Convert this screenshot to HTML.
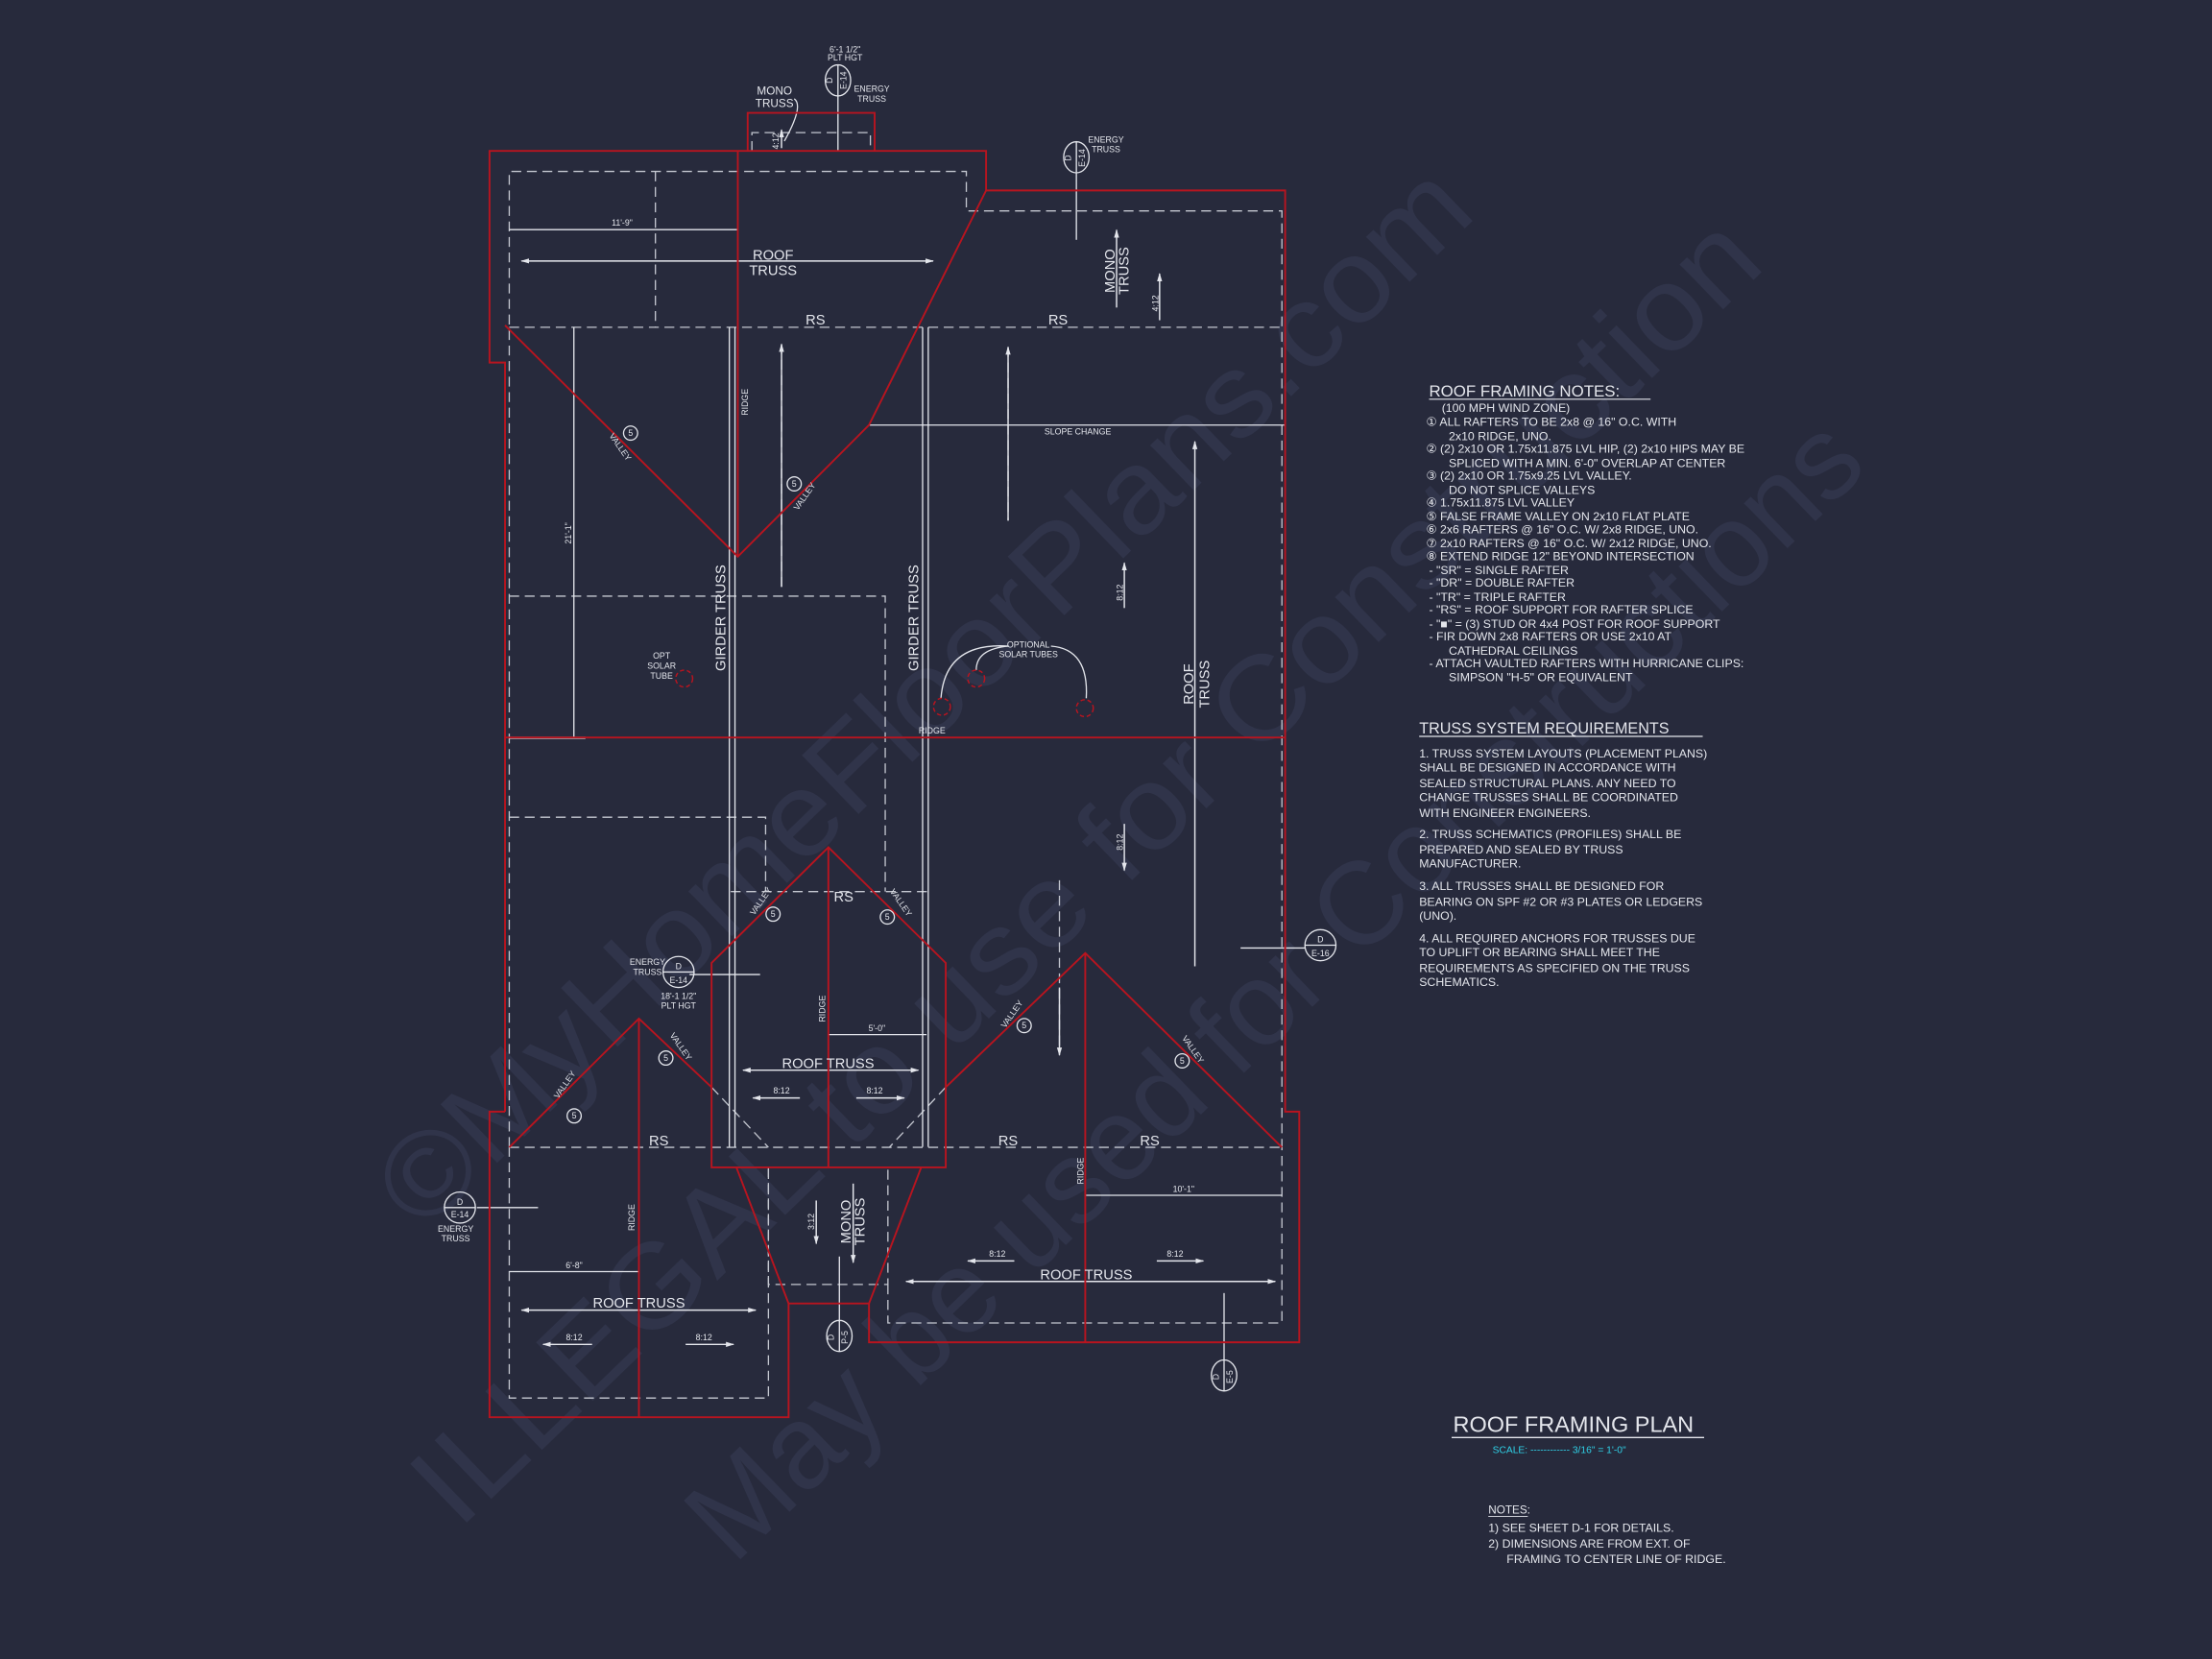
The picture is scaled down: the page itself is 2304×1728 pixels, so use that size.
<!DOCTYPE html>
<html><head><meta charset="utf-8"><style>
html,body{margin:0;padding:0;background:#272a3c;}
svg{display:block}
text{font-family:"Liberation Sans",sans-serif;fill:#e4e6ec;}
</style></head><body>
<svg width="2304" height="1728" viewBox="0 0 1568 1176" xmlns="http://www.w3.org/2000/svg">
<rect width="1568" height="1176" fill="#272a3c"/>
<defs>
<marker id="ah" viewBox="0 0 10 10" refX="9" refY="5" markerWidth="6" markerHeight="6" orient="auto-start-reverse"><path d="M0,2 L10,5 L0,8 z" fill="#e4e6ec"/></marker>
</defs>
<!-- watermark -->
<g font-family="Liberation Serif,serif">
<text x="300" y="875" font-size="84" transform="rotate(-44 300 875)" style="fill:#30344a" textLength="1040" lengthAdjust="spacingAndGlyphs">©MyHomeFloorPlans.com</text>
<text x="325" y="1085" font-size="84" transform="rotate(-44 325 1085)" style="fill:#30344a" textLength="1290" lengthAdjust="spacingAndGlyphs">ILLEGAL to use for Construction</text>
<text x="520" y="1110" font-size="84" transform="rotate(-44 520 1110)" style="fill:#30344a" textLength="1120" lengthAdjust="spacingAndGlyphs">May be used for Constructions</text>
</g>
<!-- dashed inner lines -->
<g stroke="#c4c7d0" stroke-width="0.9" fill="none" stroke-dasharray="7,4">
<path d="M361,813 V121.5 H685 V149.5 H908.7 V813"/>
<line x1="361" y1="232" x2="908.7" y2="232"/>
<line x1="464.6" y1="121.5" x2="464.6" y2="232"/>
<line x1="361" y1="813.3" x2="908.7" y2="813.3"/>
<path d="M361,422.6 H627.5 V632"/>
<path d="M361,579.3 H542.7 V632"/>
<line x1="518" y1="632" x2="657" y2="632"/>
<path d="M361,813 V991 H544.7 V827.5"/>
<path d="M544.7,827.5 V910.5 H629.4 V827.5"/>
<path d="M629.4,910.5 V937.8 H908.7 V813"/>
<line x1="504.4" y1="770.7" x2="544.7" y2="813.3"/>
<line x1="670.4" y1="770.7" x2="630.4" y2="813.3"/>
<path d="M533,107 V94 H617 V107"/>
<line x1="554" y1="244" x2="554" y2="416"/>
<line x1="714.6" y1="246" x2="714.6" y2="369"/>
<line x1="751" y1="624" x2="751" y2="745"/>
</g>
<!-- solid white lines -->
<g stroke="#e4e6ec" stroke-width="0.9" fill="none">
<line x1="517" y1="232" x2="517" y2="813"/><line x1="521" y1="232" x2="521" y2="813"/>
<line x1="654" y1="232" x2="654" y2="813"/><line x1="658" y1="232" x2="658" y2="813"/>
<line x1="361" y1="162.8" x2="522.8" y2="162.8"/>
<line x1="616" y1="301.3" x2="911" y2="301.3"/>
<line x1="406.8" y1="232" x2="406.8" y2="523"/>
<line x1="361" y1="523" x2="415" y2="523" stroke-width="1.5"/>
<line x1="587" y1="733.4" x2="656.8" y2="733.4"/>
<line x1="361" y1="901.4" x2="453" y2="901.4"/>
<line x1="769" y1="847.3" x2="908.7" y2="847.3"/>
<line x1="594" y1="68" x2="594" y2="107"/>
<line x1="763" y1="122" x2="763" y2="170"/>
<line x1="488.8" y1="690.8" x2="538.8" y2="690.8"/>
<line x1="338" y1="856" x2="381.4" y2="856"/>
<line x1="879.4" y1="672" x2="925" y2="672"/>
<line x1="595" y1="890.7" x2="595" y2="937"/>
<line x1="867.7" y1="916.6" x2="867.7" y2="964"/>
<path d="M563,70 Q570,75 556,100"/>
<path d="M667,495 Q670,455 715,458"/><path d="M692,475 Q692,460 715,458"/><path d="M745,458 Q772,460 770,495"/>
</g>
<!-- arrows -->
<g stroke="#e4e6ec" stroke-width="1" fill="none">
<line x1="369.7" y1="185" x2="661.5" y2="185" marker-start="url(#ah)" marker-end="url(#ah)"/>
<line x1="526.7" y1="758.6" x2="651" y2="758.6" marker-start="url(#ah)" marker-end="url(#ah)"/>
<line x1="369.7" y1="928.7" x2="535.7" y2="928.7" marker-start="url(#ah)" marker-end="url(#ah)"/>
<line x1="642.3" y1="908.4" x2="904" y2="908.4" marker-start="url(#ah)" marker-end="url(#ah)"/>
<line x1="567" y1="778.3" x2="533.7" y2="778.3" marker-end="url(#ah)"/>
<line x1="607" y1="778.3" x2="641" y2="778.3" marker-end="url(#ah)"/>
<line x1="419.7" y1="953" x2="385" y2="953" marker-end="url(#ah)"/>
<line x1="486" y1="953" x2="520" y2="953" marker-end="url(#ah)"/>
<line x1="719" y1="893.8" x2="686" y2="893.8" marker-end="url(#ah)"/>
<line x1="820" y1="893.8" x2="853" y2="893.8" marker-end="url(#ah)"/>
<line x1="554" y1="416" x2="554" y2="244" marker-end="url(#ah)"/>
<line x1="714.6" y1="369" x2="714.6" y2="246" marker-end="url(#ah)"/>
<line x1="847" y1="685" x2="847" y2="313" marker-end="url(#ah)"/>
<line x1="791.5" y1="218" x2="791.5" y2="163" marker-end="url(#ah)"/>
<line x1="822" y1="227" x2="822" y2="194" marker-end="url(#ah)"/>
<line x1="797" y1="431" x2="797" y2="399" marker-end="url(#ah)"/>
<line x1="797" y1="584" x2="797" y2="617" marker-end="url(#ah)"/>
<line x1="751" y1="700" x2="751" y2="748" marker-end="url(#ah)"/>
<line x1="604.8" y1="839" x2="604.8" y2="895" marker-end="url(#ah)"/>
<line x1="578.6" y1="851" x2="578.6" y2="881.6" marker-end="url(#ah)"/>
<line x1="554" y1="105" x2="554" y2="92" marker-end="url(#ah)"/>
</g>
<!-- red outline -->
<g stroke="#b8141f" stroke-width="1.3" fill="none">
<path d="M530,107 V80 H620 V107"/>
<path d="M358,788 V257 H347 V107 H699 V135 H911 V788 H921 V951.5 H616 V924 H559 V1004.6 H347 V788 H358"/>
<line x1="523" y1="107" x2="523" y2="394.6"/>
<path d="M699,135 L616,301.3 L523,394.6 L358,230.6"/>
<line x1="358" y1="522.8" x2="911" y2="522.8"/>
<path d="M587.2,600.6 L504.4,682.6 V827.5 H670.4 V682.6 Z"/>
<line x1="587.2" y1="600.6" x2="587.2" y2="827.5"/>
<path d="M361,813.3 L452.9,722 L504.4,770.7"/>
<line x1="452.9" y1="722" x2="452.9" y2="1004.6"/>
<path d="M670.4,770.7 L769.3,675.6 L908.7,813.3"/>
<line x1="769.3" y1="675.6" x2="769.3" y2="951.5"/>
<path d="M522,827.5 L559,924 M653,827.5 L616,924"/>
</g>
<g stroke="#b8141f" stroke-width="1" fill="none" stroke-dasharray="3,2">
<circle cx="485" cy="481" r="6"/><circle cx="692" cy="481" r="6"/><circle cx="667.7" cy="501" r="6"/><circle cx="769" cy="502" r="6"/>
</g>
<!-- callout circles -->
<g stroke="#e4e6ec" stroke-width="0.9" fill="none">
<ellipse cx="594" cy="57" rx="9" ry="11"/><line x1="594" y1="46" x2="594" y2="68"/>
<ellipse cx="763" cy="111.5" rx="9" ry="11"/><line x1="763" y1="100" x2="763" y2="122"/>
<circle cx="481" cy="689" r="11"/><line x1="470" y1="689" x2="492" y2="689"/>
<circle cx="326" cy="856" r="11"/><line x1="315" y1="856" x2="337" y2="856"/>
<circle cx="936" cy="670" r="11"/><line x1="925" y1="670" x2="947" y2="670"/>
<ellipse cx="595" cy="947" rx="9" ry="11"/><line x1="595" y1="936" x2="595" y2="958"/>
<ellipse cx="867.7" cy="975" rx="9" ry="11"/><line x1="867.7" y1="964" x2="867.7" y2="986"/>
<circle cx="447" cy="307" r="5"/><circle cx="563" cy="343" r="5"/>
<circle cx="548" cy="648" r="5"/><circle cx="629" cy="650" r="5"/>
<circle cx="472" cy="750" r="5"/><circle cx="407" cy="791" r="5"/>
<circle cx="726" cy="727" r="5"/><circle cx="838" cy="752" r="5"/>
</g>
<g font-size="6" text-anchor="middle">
<text x="447" y="309">5</text><text x="563" y="345">5</text><text x="548" y="650">5</text><text x="629" y="652">5</text>
<text x="472" y="752">5</text><text x="407" y="793">5</text><text x="726" y="729">5</text><text x="838" y="754">5</text>
<text x="481" y="687">D</text><text x="481" y="697">E-14</text>
<text x="326" y="854">D</text><text x="326" y="863">E-14</text>
<text x="936" y="668">D</text><text x="936" y="678">E-16</text>
<text transform="translate(590,57) rotate(-90)">D</text><text transform="translate(600,57) rotate(-90)">E-14</text>
<text transform="translate(759,112) rotate(-90)">D</text><text transform="translate(769,112) rotate(-90)">E-14</text>
<text transform="translate(591,948) rotate(-90)">D</text><text transform="translate(601,948) rotate(-90)">P-5</text>
<text transform="translate(864,976) rotate(-90)">D</text><text transform="translate(874,976) rotate(-90)">E-5</text>
</g>
<!-- plan labels -->
<g font-size="10" text-anchor="middle">
<text x="548" y="184">ROOF</text><text x="548" y="195">TRUSS</text>
<text x="578" y="230">RS</text><text x="750" y="230">RS</text>
<text x="598" y="639">RS</text><text x="467" y="812">RS</text><text x="714.6" y="812">RS</text><text x="815" y="812">RS</text>
<text x="587" y="757">ROOF TRUSS</text><text x="452.9" y="927">ROOF TRUSS</text><text x="770" y="907">ROOF TRUSS</text>
<text transform="translate(514,438) rotate(-90)">GIRDER TRUSS</text>
<text transform="translate(651,438) rotate(-90)">GIRDER TRUSS</text>
<text transform="translate(846,485) rotate(-90)">ROOF</text><text transform="translate(857,485) rotate(-90)">TRUSS</text>
<text transform="translate(790,192) rotate(-90)">MONO</text><text transform="translate(800,192) rotate(-90)">TRUSS</text>
<text transform="translate(603,866) rotate(-90)">MONO</text><text transform="translate(613,866) rotate(-90)">TRUSS</text>
<text x="549" y="67" font-size="8">MONO</text><text x="549" y="76" font-size="8">TRUSS</text>
</g>
<g font-size="6" text-anchor="middle">
<text x="441" y="160">11'-9"</text><text x="407" y="899">6'-8"</text><text x="621.6" y="731">5'-0"</text><text x="839" y="845">10'-1"</text>
<text transform="translate(405,378) rotate(-90)">21'-1"</text>
<text x="764" y="308">SLOPE CHANGE</text>
<text x="660.7" y="520">RIDGE</text>
<text transform="translate(530,285) rotate(-90)">RIDGE</text>
<text transform="translate(585,715) rotate(-90)">RIDGE</text>
<text transform="translate(450,863) rotate(-90)">RIDGE</text>
<text transform="translate(768,830) rotate(-90)">RIDGE</text>
<text x="469" y="467">OPT</text><text x="469" y="474">SOLAR</text><text x="469" y="481">TUBE</text>
<text x="729" y="459">OPTIONAL</text><text x="729" y="466">SOLAR TUBES</text>
<text x="459" y="684">ENERGY</text><text x="459" y="691">TRUSS</text>
<text x="481" y="708">18'-1 1/2"</text><text x="481" y="715">PLT HGT</text>
<text x="323" y="873">ENERGY</text><text x="323" y="880">TRUSS</text>
<text x="599" y="37">6'-1 1/2"</text><text x="599" y="43">PLT HGT</text>
<text x="618" y="65">ENERGY</text><text x="618" y="72">TRUSS</text>
<text x="784" y="101">ENERGY</text><text x="784" y="108">TRUSS</text>
<text x="554" y="775">8:12</text><text x="620" y="775">8:12</text>
<text x="407" y="950">8:12</text><text x="499" y="950">8:12</text>
<text x="707" y="891">8:12</text><text x="833" y="891">8:12</text>
<text transform="translate(796,420) rotate(-90)">8:12</text>
<text transform="translate(796,597) rotate(-90)">8:12</text>
<text transform="translate(821,215) rotate(-90)">4:12</text>
<text transform="translate(552,100) rotate(-90)">4:12</text>
<text transform="translate(577,866) rotate(-90)">3:12</text>
<text transform="translate(438,318) rotate(55)">VALLEY</text>
<text transform="translate(572,353) rotate(-55)">VALLEY</text>
<text transform="translate(541,640) rotate(-55)">VALLEY</text>
<text transform="translate(637,641) rotate(55)">VALLEY</text>
<text transform="translate(481,743) rotate(55)">VALLEY</text>
<text transform="translate(402,770) rotate(-55)">VALLEY</text>
<text transform="translate(719,720) rotate(-55)">VALLEY</text>
<text transform="translate(844,745) rotate(55)">VALLEY</text>
</g>
<!-- notes -->
<g font-size="8.4">
<text x="1013" y="281" font-size="11.5">ROOF FRAMING NOTES:</text>
<line x1="1013" y1="283" x2="1170" y2="283" stroke="#e4e6ec" stroke-width="0.8"/>
<text x="1022" y="292">(100 MPH WIND ZONE)</text>
<text x="1011" y="302">①  ALL RAFTERS TO BE 2x8 @ 16" O.C. WITH</text>
<text x="1027" y="312">2x10 RIDGE, UNO.</text>
<text x="1011" y="321">②  (2) 2x10 OR 1.75x11.875 LVL HIP, (2) 2x10 HIPS MAY BE</text>
<text x="1027" y="331">SPLICED WITH A MIN. 6'-0" OVERLAP AT CENTER</text>
<text x="1011" y="340">③  (2) 2x10 OR 1.75x9.25 LVL VALLEY.</text>
<text x="1027" y="350">DO NOT SPLICE VALLEYS</text>
<text x="1011" y="359">④  1.75x11.875 LVL VALLEY</text>
<text x="1011" y="369">⑤  FALSE FRAME VALLEY ON 2x10 FLAT PLATE</text>
<text x="1011" y="378">⑥  2x6 RAFTERS @ 16" O.C. W/ 2x8 RIDGE, UNO.</text>
<text x="1011" y="388">⑦  2x10 RAFTERS @ 16" O.C. W/ 2x12 RIDGE, UNO.</text>
<text x="1011" y="397">⑧  EXTEND RIDGE 12" BEYOND INTERSECTION</text>
<text x="1013" y="407">-   "SR" = SINGLE RAFTER</text>
<text x="1013" y="416">-   "DR" = DOUBLE RAFTER</text>
<text x="1013" y="426">-   "TR" = TRIPLE RAFTER</text>
<text x="1013" y="435">-   "RS" = ROOF SUPPORT FOR RAFTER SPLICE</text>
<text x="1013" y="445">-   "■"  = (3) STUD OR 4x4 POST FOR ROOF SUPPORT</text>
<text x="1013" y="454">-   FIR DOWN 2x8 RAFTERS OR USE 2x10 AT</text>
<text x="1027" y="464">CATHEDRAL CEILINGS</text>
<text x="1013" y="473">-   ATTACH VAULTED RAFTERS WITH HURRICANE CLIPS:</text>
<text x="1027" y="483">SIMPSON "H-5" OR EQUIVALENT</text>
<text x="1006" y="520" font-size="11">TRUSS SYSTEM REQUIREMENTS</text>
<line x1="1006" y1="522" x2="1207" y2="522" stroke="#e4e6ec" stroke-width="0.8"/>
<text x="1006" y="537">1. TRUSS SYSTEM LAYOUTS (PLACEMENT PLANS)</text>
<text x="1006" y="547">SHALL BE DESIGNED IN ACCORDANCE WITH</text>
<text x="1006" y="558">SEALED STRUCTURAL PLANS. ANY NEED TO</text>
<text x="1006" y="568">CHANGE TRUSSES SHALL BE COORDINATED</text>
<text x="1006" y="579">WITH ENGINEER ENGINEERS.</text>
<text x="1006" y="594">2. TRUSS SCHEMATICS (PROFILES) SHALL BE</text>
<text x="1006" y="605">PREPARED AND SEALED BY TRUSS</text>
<text x="1006" y="615">MANUFACTURER.</text>
<text x="1006" y="631">3. ALL TRUSSES SHALL BE DESIGNED FOR</text>
<text x="1006" y="642">BEARING ON SPF #2 OR #3 PLATES OR LEDGERS</text>
<text x="1006" y="652">(UNO).</text>
<text x="1006" y="668">4. ALL REQUIRED ANCHORS FOR TRUSSES DUE</text>
<text x="1006" y="678">TO UPLIFT OR BEARING SHALL MEET THE</text>
<text x="1006" y="689">REQUIREMENTS AS SPECIFIED ON THE TRUSS</text>
<text x="1006" y="699">SCHEMATICS.</text>
<text x="1030" y="1015" font-size="16">ROOF FRAMING PLAN</text>
<line x1="1029" y1="1019" x2="1208" y2="1019" stroke="#e4e6ec" stroke-width="1"/>
<text x="1058" y="1030" font-size="7" style="fill:#2fd0e6">SCALE: ------------ 3/16" = 1'-0"</text>
<text x="1055" y="1073" font-size="8">NOTES:</text>
<line x1="1055" y1="1075" x2="1083" y2="1075" stroke="#e4e6ec" stroke-width="0.6"/>
<text x="1055" y="1086">1)  SEE SHEET D-1 FOR DETAILS.</text>
<text x="1055" y="1097">2)  DIMENSIONS ARE FROM EXT. OF</text>
<text x="1068" y="1108">FRAMING TO CENTER LINE OF RIDGE.</text>
</g>
</svg>
</body></html>
